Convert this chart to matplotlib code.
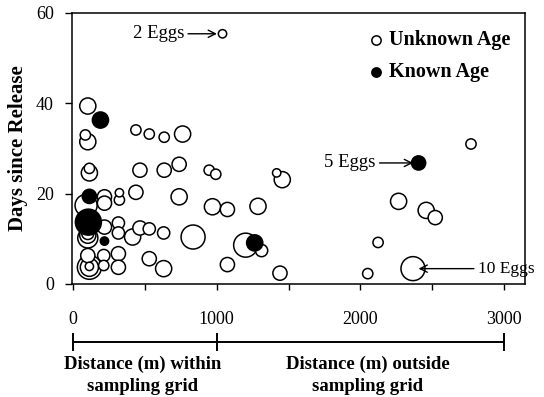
import numpy as np
import matplotlib
matplotlib.use('Agg')
import matplotlib.pyplot as plt

plt.rcParams['font.family'] = ['Liberation Serif', 'DejaVu Serif']

# open circles: unknown age (distance m, days, eggs)
x_unknown = [102, 85, 102, 437, 530, 634, 762, 113, 113, 465, 634, 738, 947, 993, 1417, 1456,
             90, 218, 322, 322, 437, 218, 738, 970, 1074, 1287,
             218, 315, 315, 465, 530, 414, 630, 835, 102, 102, 102, 1201, 1312,
             102, 213, 315, 213, 315, 530, 630, 113, 113, 113, 1074, 1440,
             1040, 2770, 2266, 2458, 2521, 2123, 2051, 2366]
y_unknown = [39.4, 33.0, 31.5, 34.1, 33.2, 32.5, 33.2, 24.6, 25.6, 25.2, 25.2, 26.5, 25.2, 24.3, 24.6, 23.1,
             17.4, 19.3, 20.2, 18.6, 20.3, 17.9, 19.3, 17.1, 16.5, 17.2,
             12.6, 13.5, 11.3, 12.4, 12.2, 10.4, 11.3, 10.4, 10.2, 10.8, 11.2, 8.6, 7.4,
             6.3, 6.3, 6.7, 4.1, 3.7, 5.6, 3.4, 3.7, 3.7, 3.9, 4.3, 2.4,
             55.4, 31.0, 18.3, 16.3, 14.7, 9.2, 2.3, 3.4]
eggs_unknown = [6, 3, 6, 3, 3, 3, 6, 6, 3, 5, 5, 5, 3, 3, 2, 6,
                9, 5, 2, 3, 5, 5, 6, 6, 5, 6,
                5, 4, 4, 5, 4, 6, 4, 10, 8, 6, 4, 10, 4,
                5, 4, 5, 3, 5, 5, 6, 10, 7, 2, 5, 5,
                2, 3, 6, 6, 5, 3, 3, 10]

# filled circles: known age
x_known = [190, 113, 106, 218, 1264, 2405]
y_known = [36.3, 19.4, 13.7, 9.5, 9.1, 26.8]
eggs_known = [6, 5, 11, 2, 6, 5]

scale_ticks = [0, 1000, 2000, 3000]


def marker_area(eggs):
    d_px = 4.4 + 1.96 * np.asarray(eggs, dtype=float)
    return (d_px * 0.72) ** 2


fig = plt.figure(figsize=(5.44, 3.97), dpi=100)
W, H = 544, 397
ax = fig.add_axes([72 / W, 1 - 284 / H, (525 - 72) / W, (284 - 13) / H])

order = np.argsort(-np.asarray(eggs_unknown), kind='stable')
ax.scatter(np.asarray(x_unknown)[order], np.asarray(y_unknown)[order],
           s=marker_area(np.asarray(eggs_unknown)[order]),
           facecolors='white', edgecolors='black', linewidths=1.1, zorder=2)
ax.scatter(x_known, y_known, s=marker_area(eggs_known),
           facecolors='black', edgecolors='black', linewidths=1.1, zorder=3)

ax.set_xlim(-8, 3146)
ax.set_ylim(0, 60)
ax.set_yticks([0, 20, 40, 60])
ax.set_xticks(np.arange(0, 3001, 500))
ax.tick_params(axis='x', direction='out', length=4, width=1, labelbottom=False)
ax.tick_params(axis='y', direction='out', length=5, width=1, labelsize=13, pad=8)
for sp in ax.spines.values():
    sp.set_linewidth(1.1)
ax.set_ylabel('Days since Release', fontsize=15, fontweight='bold', labelpad=6)

# annotations
arrow = dict(arrowstyle='->', lw=1.0, color='black', shrinkA=1, shrinkB=4,
             mutation_scale=13)
ax.annotate('2 Eggs', xy=(1040, 55.4), xytext=(771, 55.4), ha='right', va='center',
            fontsize=13.5, arrowprops=arrow)
ax.annotate('5 Eggs', xy=(2405, 26.8), xytext=(2104, 26.8), ha='right', va='center',
            fontsize=13.5, arrowprops=arrow)
ax.annotate('10 Eggs', xy=(2366, 3.4), xytext=(2819, 3.4), ha='left', va='center',
            fontsize=12.5, arrowprops=arrow)

# legend
h1 = ax.scatter([], [], s=marker_area(2.5), facecolors='white', edgecolors='black', linewidths=1.1)
h2 = ax.scatter([], [], s=marker_area(2.5), facecolors='black', edgecolors='black', linewidths=1.1)
ax.legend([h1, h2], ['Unknown Age', 'Known Age'], loc='upper right', frameon=False,
          prop={'weight': 'bold', 'size': 14.5}, handletextpad=0.15, labelspacing=0.6,
          borderaxespad=0, borderpad=0, handlelength=1.0,
          bbox_to_anchor=((510 - 72) / 453, 1 - (30 - 13) / 271))

# lower distance scale bar (zero-height axes, ticks crossing the line)
ax2 = fig.add_axes([72 / W, 1 - 342 / H, (525 - 72) / W, 0.0001])
ax2.set_xlim(ax.get_xlim())
ax2.set_ylim(0, 1)
for name in ['left', 'right', 'top']:
    ax2.spines[name].set_visible(False)
ax2.spines['bottom'].set_linewidth(1.4)
ax2.spines['bottom'].set_bounds(0, 3000)
ax2.set_yticks([])
ax2.set_xticks(scale_ticks)
ax2.set_xticklabels([str(t) for t in scale_ticks])
ax2.tick_params(axis='x', bottom=True, top=False, labelbottom=False, labeltop=True,
                direction='inout', length=12.5, width=1.4, labelsize=13, pad=4)
ax2.xaxis.get_major_ticks()[2].tick1line.set_visible(False)
ax2.patch.set_visible(False)

fig.text(143 / W, 1 - 375 / H, 'Distance (m) within\nsampling grid', ha='center', va='center',
         fontsize=13.5, fontweight='bold', linespacing=1.4)
fig.text(368 / W, 1 - 375 / H, 'Distance (m) outside\nsampling grid', ha='center', va='center',
         fontsize=13.5, fontweight='bold', linespacing=1.4)

fig.savefig('out.png', dpi=100)
